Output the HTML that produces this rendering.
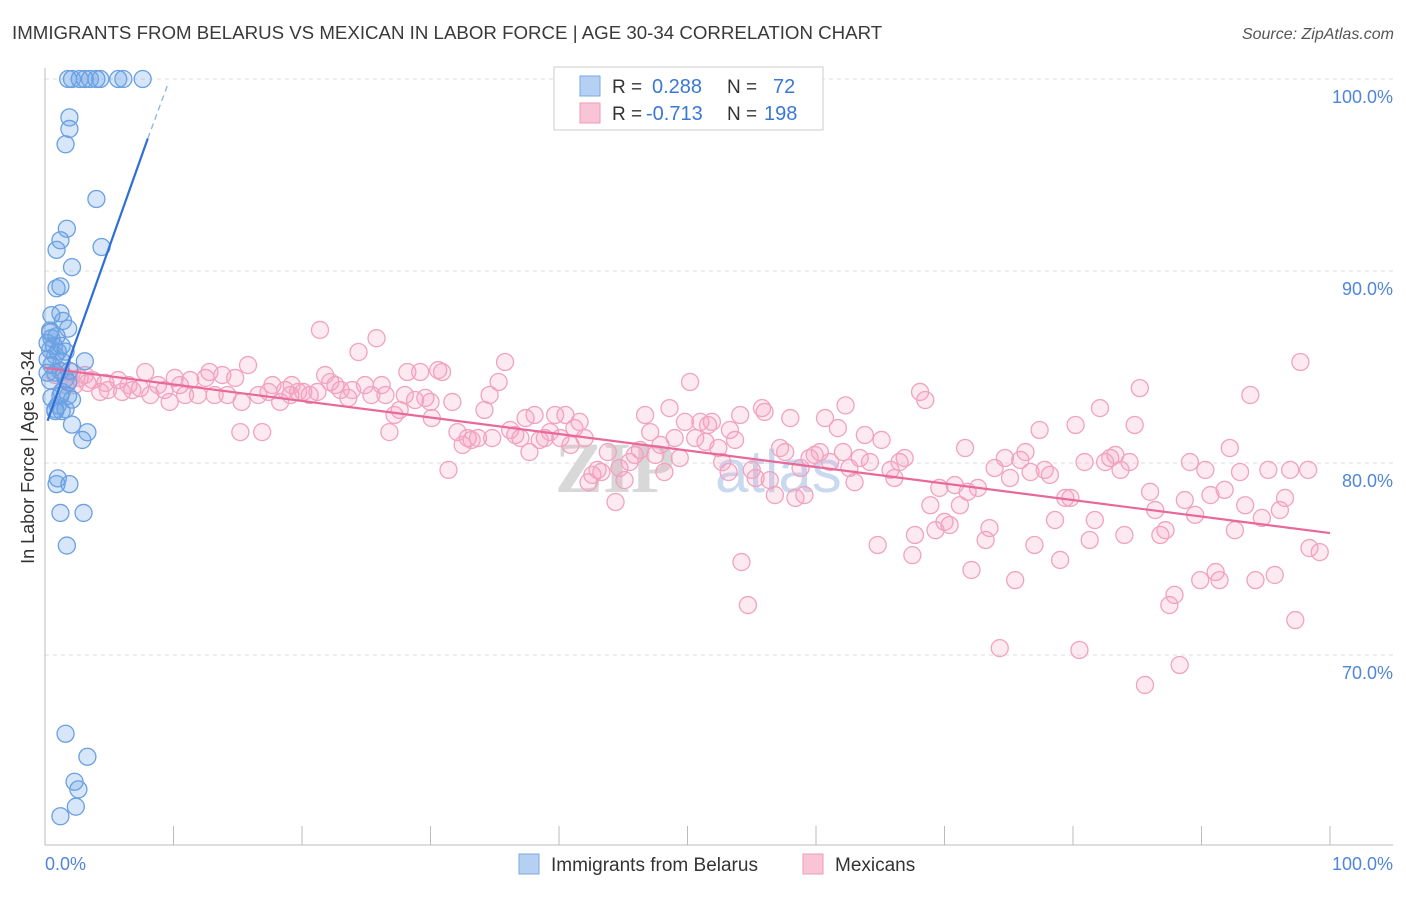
<!DOCTYPE html>
<html><head><meta charset="utf-8"><style>
html,body{margin:0;padding:0;background:#fff;}
body{width:1406px;height:892px;overflow:hidden;font-family:"Liberation Sans",sans-serif;}
</style></head><body>
<svg width="1406" height="892" xmlns="http://www.w3.org/2000/svg">
<text x="12" y="39" font-size="18.7" fill="#3a3a3a">IMMIGRANTS FROM BELARUS VS MEXICAN IN LABOR FORCE | AGE 30-34 CORRELATION CHART</text>
<text x="1394" y="39" font-size="16" fill="#555" font-style="italic" text-anchor="end">Source: ZipAtlas.com</text>
<g id="grid"></g>
<g id="axes"></g>
<text x="555" y="492" font-size="72" font-weight="bold" fill="#d8d8d8" font-family="Liberation Serif,serif">ZIP</text>
<text x="715" y="492" font-size="60" fill="#c9d9ef">atlas</text>
<g id="pink"></g>
<g id="blue"></g>
<g id="lines"></g>
<g>
<rect x="554" y="67" width="269" height="63" fill="#fff" stroke="#ccc"/>
<rect x="580" y="76" width="20" height="20" fill="#b5d0f3" stroke="#7aa8e4"/>
<rect x="580" y="103" width="20" height="20" fill="#f9c5d6" stroke="#ee9ab7"/>
<text x="612" y="93" font-size="19" fill="#333">R =</text>
<text x="652" y="93" font-size="20" fill="#3a78d6">0.288</text>
<text x="727" y="93" font-size="19" fill="#333">N =</text>
<text x="773" y="93" font-size="20" fill="#3a78d6">72</text>
<text x="612" y="120" font-size="19" fill="#333">R =</text>
<text x="646" y="120" font-size="20" fill="#3a78d6">-0.713</text>
<text x="727" y="120" font-size="19" fill="#333">N =</text>
<text x="764" y="120" font-size="20" fill="#3a78d6">198</text>
</g>
<g>
<rect x="519" y="854" width="20" height="20" fill="#b5d0f3" stroke="#7aa8e4"/>
<text x="551" y="871" font-size="19" fill="#333">Immigrants from Belarus</text>
<rect x="803" y="854" width="20" height="20" fill="#f9c5d6" stroke="#ee9ab7"/>
<text x="835" y="871" font-size="19" fill="#333">Mexicans</text>
</g>
<text transform="translate(34,457) rotate(-90)" font-size="18" fill="#333" text-anchor="middle">In Labor Force | Age 30-34</text>
</svg>
<script>
const yTicks=[100,90,80,70];
const yTickLabels=["100.0%","90.0%","80.0%","70.0%"];
const xTicks=[0,10,20,30,40,50,60,70,80,90,100];
const blueX=[1.8,2.1,2.7,3.1,3.5,4.0,4.3,5.7,6.1,7.6,1.9,1.9,1.6,4.0,1.7,1.2,0.9,2.1,4.4,0.9,1.2,1.2,1.4,1.8,0.5,0.4,0.5,0.2,0.4,0.8,1.0,3.1,1.3,0.2,0.8,1.2,1.6,1.9,1.8,1.3,1.8,0.5,1.0,0.8,1.3,0.8,1.6,2.1,3.3,2.9,1.0,0.9,1.9,1.2,3.0,1.7,1.6,3.3,2.3,2.6,2.4,1.2,0.4,0.5,0.2,1.2,2.1,0.7,0.9,0.4,1.3,1.6];
const blueY=[100,100,100,100,100,100,100,100,100,100,98.0,97.4,96.6,93.75,92.2,91.6,91.1,90.2,91.25,89.1,89.2,87.8,87.4,87.0,87.7,86.9,86.5,86.25,85.9,85.6,85.8,85.3,85.3,85.4,84.7,84.8,84.4,84.8,84.2,83.7,83.5,83.4,83.0,82.8,82.7,82.7,82.8,82.0,81.6,81.2,79.2,78.9,78.9,77.4,77.4,75.7,65.9,64.7,63.4,63.0,62.1,61.6,84.3,85.1,84.7,83.5,83.3,86.1,86.6,86.8,86.1,85.8];
const pinkX=[0.8,1.3,1.6,1.9,2.1,2.3,2.7,3.1,3.3,3.7,4.3,4.7,4.9,5.7,6.0,6.5,6.8,7.4,7.8,8.2,8.8,9.3,9.7,10.1,10.5,10.9,11.3,11.9,12.5,12.8,13.2,13.8,14.2,14.8,15.3,15.8,15.2,16.9,16.6,17.4,17.7,18.3,18.7,19.1,19.2,19.7,20.1,20.6,21.2,21.4,21.8,22.2,22.6,23.0,23.6,23.9,24.4,24.9,25.4,25.8,26.2,26.5,26.8,27.2,27.6,28.0,28.2,28.8,29.2,29.6,30.0,30.1,30.6,30.9,31.4,31.7,32.1,32.5,32.9,33.2,33.7,34.2,34.6,34.8,35.3,35.8,36.2,36.6,37.0,37.4,37.7,38.1,38.5,38.9,39.3,39.7,40.1,40.5,40.9,41.2,41.6,42.0,42.3,42.6,43.0,43.3,43.8,44.4,44.7,45.1,45.5,45.9,46.3,46.7,47.1,47.5,47.9,48.2,48.6,49.0,49.4,49.8,50.2,50.6,51.0,51.4,51.6,51.9,52.4,52.7,53.2,53.3,53.7,54.1,54.2,54.7,55.0,55.3,55.8,56.0,56.4,56.8,57.2,57.6,58.0,58.4,58.8,59.1,59.5,59.9,60.3,60.7,61.1,61.7,62.1,62.3,62.6,63.0,63.4,63.8,64.2,64.8,65.1,65.8,66.1,66.5,66.9,67.5,67.7,68.1,68.5,68.9,69.3,69.6,70.0,70.4,70.8,71.2,71.6,71.8,72.1,72.6,73.2,73.5,73.9,74.3,74.7,75.1,75.5,75.9,76.3,76.7,77.0,77.4,77.8,78.2,78.6,79.0,79.4,79.8,80.2,80.5,80.9,81.3,81.7,82.1,82.5,82.9,83.3,83.7,84.0,84.4,84.8,85.2,85.6,86.0,86.4,86.8,87.2,87.5,87.9,88.3,88.7,89.1,89.5,89.9,90.3,90.7,91.1,91.4,91.8,92.2,92.6,93.0,93.4,93.8,94.2,94.7,95.2,95.7,96.1,96.5,96.9,97.3,97.7,98.4,99.2,98.3];
const pinkY=[84.58,84.74,84.06,84.32,84.74,84.06,84.43,84.58,84.17,84.32,83.7,84.17,83.8,84.32,83.7,84.06,83.8,83.9,84.74,83.54,84.06,83.8,83.18,84.43,84.06,83.54,84.32,83.54,84.43,84.74,83.54,84.58,83.54,84.43,83.18,85.1,81.61,81.61,83.54,83.7,84.06,83.18,83.8,83.54,84.06,83.7,83.7,83.54,83.7,86.93,84.58,84.22,84.06,83.8,83.39,83.8,85.78,84.06,83.54,86.5,84.06,83.54,81.61,82.5,82.76,83.54,84.74,83.28,84.74,83.39,83.18,82.34,84.84,84.74,79.64,83.18,81.61,80.94,81.3,81.2,81.3,82.76,83.54,81.3,84.22,85.26,81.72,81.46,81.3,82.34,80.57,82.5,81.2,81.3,81.61,82.5,81.3,82.5,80.94,81.82,82.14,81.3,79.0,79.38,79.64,79.53,80.57,77.97,79.74,79.11,80.05,80.42,80.68,82.5,81.61,80.42,80.94,79.53,82.86,81.3,80.26,82.14,84.22,81.3,82.14,81.1,81.98,82.14,80.78,80.05,79.53,81.72,81.2,82.5,74.84,72.6,79.64,79.22,82.86,82.66,79.11,78.33,80.78,80.57,82.34,78.18,79.74,78.33,80.26,80.42,80.57,82.34,80.05,81.82,80.57,83.0,79.74,79.0,80.26,81.46,80.05,75.73,81.2,79.64,79.22,80.05,80.26,75.2,76.25,83.7,83.28,77.8,76.5,78.7,76.93,76.77,78.85,77.8,80.78,78.5,74.43,78.7,75.99,76.61,79.74,70.36,80.26,79.22,73.9,80.16,80.57,79.53,75.73,81.72,79.64,79.38,77.03,74.95,78.18,78.18,81.98,70.26,80.05,75.99,77.03,82.86,80.05,80.26,80.42,79.64,76.25,80.05,81.98,83.9,68.44,78.5,77.55,76.25,76.5,72.6,73.13,69.48,78.07,80.05,77.3,73.9,79.64,78.33,74.32,73.9,78.6,80.78,76.5,79.53,77.8,83.54,73.9,77.14,79.64,74.17,77.55,78.18,79.64,71.82,85.26,75.57,75.36,79.64];
const blueLineX=[0.2,8.0,9.6];
const blueLineY=[82.2,96.9,99.8];
const pinkLineX=[0,100];
const pinkLineY=[84.95,76.35];

const NS="http://www.w3.org/2000/svg";
const X=v=>45+v*12.85;
const Y=v=>79+(100-v)*19.2;
function mk(tag,attrs,parent){const e=document.createElementNS(NS,tag);for(const k in attrs)e.setAttribute(k,attrs[k]);parent.appendChild(e);return e;}
const grid=document.getElementById('grid'),axes=document.getElementById('axes');
yTicks.forEach((t,i)=>{
  const l=mk('line',{x1:45,x2:1393,y1:Y(t),y2:Y(t),stroke:'#ddd','stroke-dasharray':'4,4'},grid);
  
  
  const tx=mk('text',{x:1393,y:Y(t)+24,'font-size':18,fill:'#4f86d8','text-anchor':'end'},axes);
  tx.textContent=yTickLabels[i];
  
  
});
const ax=mk('line',{x1:45,x2:45,y1:68,y2:845,stroke:'#bbb'},axes);


const bx=mk('line',{x1:45,x2:1393,y1:845,y2:845,stroke:'#bbb'},axes);


xTicks.forEach(t=>{
  const l=mk('line',{x1:X(t),x2:X(t),y1:826,y2:845,stroke:'#bbb'},axes);
  
  
});
const xl0=mk('text',{x:45,y:870,'font-size':18,fill:'#4f86d8'},axes);xl0.textContent='0.0%';


const xl1=mk('text',{x:1393,y:870,'font-size':18,fill:'#4f86d8','text-anchor':'end'},axes);xl1.textContent='100.0%';



const pink=document.getElementById('pink');
pinkX.forEach((v,i)=>{
  const c=mk('circle',{cx:X(v),cy:Y(pinkY[i]),r:8.5,fill:'rgba(244,160,190,0.22)',stroke:'#f1a2bf','stroke-width':1.3},pink);
  
  
});
const blue=document.getElementById('blue');
blueX.forEach((v,i)=>{
  const c=mk('circle',{cx:X(v),cy:Y(blueY[i]),r:8.5,fill:'rgba(110,165,230,0.28)',stroke:'#6aa0e2','stroke-width':1.3},blue);
  
  
});
const lines=document.getElementById('lines');
const pl=mk('line',{x1:X(pinkLineX[0]),y1:Y(pinkLineY[0]),x2:X(pinkLineX[1]),y2:Y(pinkLineY[1]),stroke:'#e8689a','stroke-width':2.2},lines);


const bl=mk('line',{x1:X(blueLineX[0]),y1:Y(blueLineY[0]),x2:X(blueLineX[1]),y2:Y(blueLineY[1]),stroke:'#2d6fd6','stroke-width':2.2},lines);


const bd=mk('line',{x1:X(blueLineX[1]),y1:Y(blueLineY[1]),x2:X(blueLineX[2]),y2:Y(blueLineY[2]),stroke:'#8fb3e6','stroke-width':1.3,'stroke-dasharray':'6,4'},lines);


</script>
</body></html>
